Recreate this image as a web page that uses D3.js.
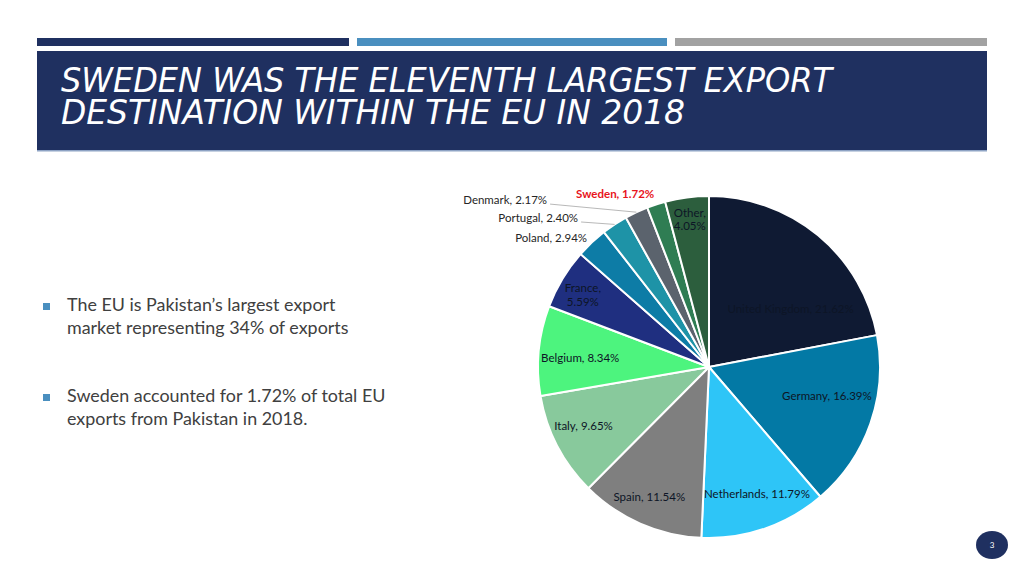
<!DOCTYPE html>
<html><head><meta charset="utf-8">
<script src="https://cdn.jsdelivr.net/npm/d3@7"></script>
<style>body{margin:0;background:#fff}svg{display:block}</style>
</head><body><svg id="c" width="1024" height="576"></svg>
<script>
const countries = ["United Kingdom","Germany","Netherlands","Spain","Italy","Belgium","France","Poland","Portugal","Denmark","Sweden","Other"];
const shares = [21.62,16.39,11.79,11.54,9.65,8.34,5.59,2.94,2.40,2.17,1.72,4.05];
const sliceColors = ["#0f1a33","#0379a5","#2ec5f7","#7f7f7f","#88c99c","#4df47e","#1f2f80","#0d7ca6","#1e93a7","#5b636d","#2f7d53","#2c5e3d"];
const titleLines = ["SWEDEN WAS THE ELEVENTH LARGEST EXPORT","DESTINATION WITHIN THE EU IN 2018"];
const bullets = [["The EU is Pakistan’s largest export","market representing 34% of exports"],["Sweden accounted for 1.72% of total EU","exports from Pakistan in 2018."]];
const pageNumber = "3";

// layout (not data)
const inside = {"United Kingdom":{r:0.585,da:15},"Germany":{r:0.71,da:-5.5},"Netherlands":{r:0.795,da:-1.6},"Spain":{r:0.835,da:1},"Italy":{r:0.81,da:2.4},"Belgium":{r:0.755,da:-1.5},"France":{r:0.85,da:-1.3,two:true},"Other":{r:0.87,da:0,two:true}};
const outside = {"Poland":{r:1.04,da:0,leader:false},"Portugal":{r:1.16,da:-7.8,leader:true},"Denmark":{r:1.36,da:-19,leader:true},"Sweden":{r:1.15,da:-10.5,anchor:"middle",red:true}};

const svg = d3.select("#c");
const font = "Lato, 'Open Sans', sans-serif";

// header bars
const bars = [["#1f3060",37,349],["#4a8fbf",357,667],["#a2a2a2",675,987]];
svg.selectAll("rect.hb").data(bars).join("rect").attr("class","hb")
  .attr("x",d=>d[1]).attr("y",38).attr("width",d=>d[2]-d[1]).attr("height",8).attr("fill",d=>d[0]);
svg.append("rect").attr("x",37).attr("y",51).attr("width",950).attr("height",100).attr("fill","#1f3060");
svg.append("rect").attr("x",37).attr("y",150).attr("width",950).attr("height",1.5).attr("fill","#8ea3c4");
const tl = [771,624];
const title = svg.append("text").attr("fill","#fff")
  .attr("font-family","'Liberation Sans Narrow','DejaVu Sans',sans-serif")
  .attr("font-style","italic").attr("font-size",34);
titleLines.forEach((t,i)=>{
  title.append("tspan").attr("x",61).attr("y",92+i*32).text(t)
    .attr("textLength",tl[i]).attr("lengthAdjust","spacingAndGlyphs");
});

// bullets
bullets.forEach((b,i)=>{
  const y0 = 311 + i*91;
  svg.append("rect").attr("x",43).attr("y",y0-8).attr("width",7).attr("height",7).attr("fill","#4a8fbf");
  b.forEach((line,j)=>{
    svg.append("text").attr("x",67).attr("y",y0+j*23).text(line)
      .attr("fill","#404040").attr("font-family",font).attr("font-size",17.9);
  });
});

// pie
const cx=709, cy=367, R=171;
const data = countries.map((c,i)=>({name:c,value:shares[i],color:sliceColors[i]}));
const pie = d3.pie().sort(null).value(d=>d.value);
const arcs = pie(data);
const arc = d3.arc().innerRadius(0).outerRadius(R);
const g = svg.append("g").attr("transform",`translate(${cx},${cy})`);
g.selectAll("path").data(arcs).join("path").attr("d",arc)
  .attr("fill",d=>d.data.color).attr("stroke","#fff").attr("stroke-width",2).attr("stroke-linejoin","round");

function pt(angle, r){ return [Math.sin(angle)*r, -Math.cos(angle)*r]; }
const rad = Math.PI/180;
arcs.forEach(a=>{
  const n = a.data.name, mid=(a.startAngle+a.endAngle)/2;
  const lbl = `${n}, ${a.data.value.toFixed(2)}%`;
  if(inside[n]){
    const o = inside[n];
    const [x,y] = pt(mid+o.da*rad, R*o.r);
    const t = g.append("text").attr("x",x).attr("y",y).attr("text-anchor","middle")
      .attr("font-family",font).attr("font-size",11.5).attr("fill","#0d1526");
    if(o.two){
      t.append("tspan").attr("x",x).attr("dy","-0.25em").text(n+",");
      t.append("tspan").attr("x",x).attr("dy","1.2em").text(a.data.value.toFixed(2)+"%");
    } else {
      t.attr("dy","0.35em").text(lbl);
    }
  } else if(outside[n]){
    const o = outside[n];
    const [x,y] = pt(mid+o.da*rad, R*o.r);
    const t = g.append("text").attr("x",x).attr("y",y).attr("dy","0.35em")
      .attr("text-anchor",o.anchor||"end").attr("font-family",font).attr("font-size",11.5)
      .attr("fill",o.red?"#e8141c":"#262626").attr("font-weight",o.red?"bold":"normal").text(lbl);
    if(o.leader){
      const [ex,ey]=pt(mid,R);
      g.append("line").attr("x1",x+3).attr("y1",y+4).attr("x2",ex).attr("y2",ey)
        .attr("stroke","#a6a6a6").attr("stroke-width",0.8);
    }
  }
});

// page number
svg.append("ellipse").attr("cx",992).attr("cy",545).attr("rx",16).attr("ry",14).attr("fill","#1f3060");
svg.append("text").attr("x",992).attr("y",548).attr("text-anchor","middle").attr("fill","#fff")
  .attr("font-family",font).attr("font-size",8).text(pageNumber);
</script></body></html>
